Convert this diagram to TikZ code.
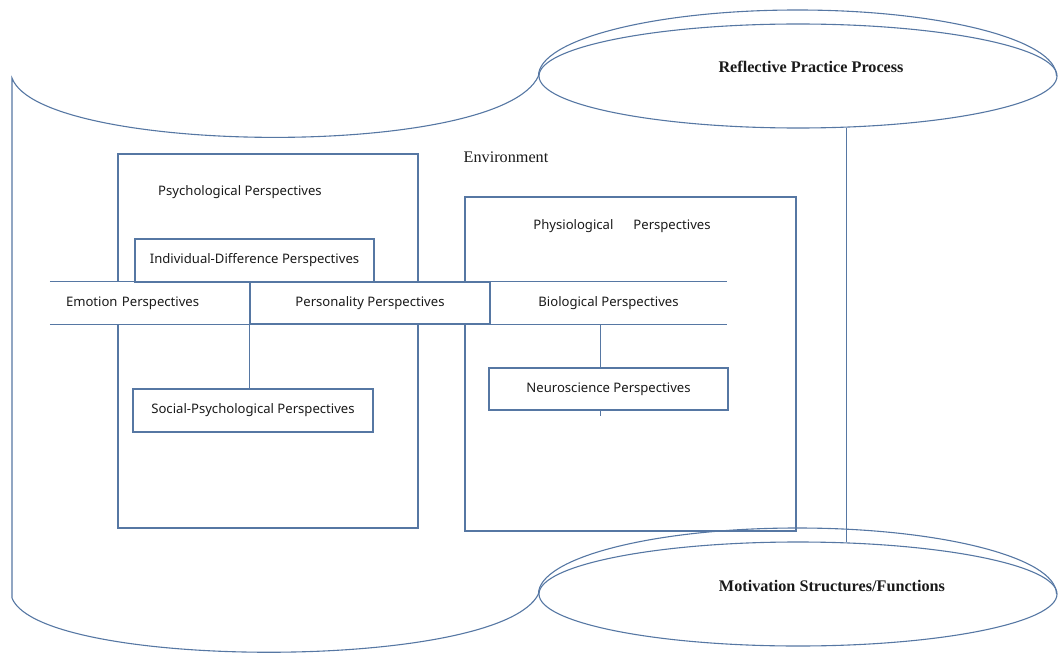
\documentclass[tikz,border=0pt]{standalone}
\usepackage{fontspec}
\setmainfont{Liberation Serif}
\newfontfamily\labelfont{Noto Sans}
\usetikzlibrary{shapes.geometric,positioning,calc}
\definecolor{edge}{HTML}{5677A3}
\definecolor{ink}{HTML}{1A1A1A}
\tikzset{
  frame/.style={draw=edge,line width=1.1pt},
  bigbox/.style={draw=edge,line width=1.1pt,inner sep=0pt},
  persbox/.style={draw=edge,line width=1.1pt,fill=white,inner sep=0pt,
                  minimum height=42pt,text=ink,
                  font=\labelfont\fontsize{13.1}{15}\selectfont},
  bandcell/.style={fill=white,inner sep=0pt,minimum height=42pt,text=ink,
                   font=\labelfont\fontsize{13.1}{15}\selectfont},
  boxtitle/.style={text=ink,font=\labelfont\fontsize{13.1}{15}\selectfont},
  ring/.style={ellipse,draw=edge,line width=1.1pt,inner sep=0pt,
               minimum width=518pt,minimum height=104pt},
  headline/.style={text=ink,font=\fontsize{16.2}{19}\selectfont\bfseries},
  envtext/.style={text=ink,font=\fontsize{16.2}{19}\selectfont}
}
\begin{document}
\begin{tikzpicture}[x=1pt,y=-1pt]
  \useasboundingbox (0,0) rectangle (1059,655);

  % process ellipses
  \node[ring,label={[headline,xshift=13pt,yshift=9pt]center:Reflective Practice Process}]
    (reflect) at (798,76) {};
  \node[ring,label={[headline,xshift=34pt,yshift=8pt]center:Motivation Structures/Functions}]
    (motive) at (798,594) {};
  \draw[frame] (reflect.west) arc[start angle=180,end angle=0,x radius=259pt,y radius=66pt];
  \draw[frame] (motive.west) arc[start angle=180,end angle=0,x radius=259pt,y radius=66pt];
  \draw[frame] (reflect.-47.3) -- (motive.47.3);

  % environment body
  \draw[frame] (reflect.west) .. controls (500,160) and (40,155) .. (12,78)
    -- (12,598) .. controls (40,670) and (500,672) .. (motive.west);
  \node[envtext] (env) at (506,157) {Environment};

  % perspective frames
  \node[bigbox,minimum width=300pt,minimum height=374pt] (psych) at (268,341) {};
  \node[boxtitle] (psychtitle) at (240,192) {Psychological Perspectives};
  \node[bigbox,minimum width=331pt,minimum height=334pt] (physio) at (630.5,364) {};
  \node[boxtitle] (physiotitle) at (622,226) {Physiological\hspace{20pt}Perspectives};

  % central band
  \node[bandcell,text width=168pt,align=left,inner xsep=16pt] (emotion) at (150,303)
    {Emotion Perspectives};
  \node[bandcell,minimum width=237pt] (biology) at (608.5,303) {Biological Perspectives};
  \draw[frame] (emotion.north west) -- (biology.north east);
  \draw[frame] (emotion.south west) -- (biology.south east);
  \node[persbox,minimum width=240pt] (personality) at (370,303) {Personality Perspectives};

  \node[persbox,minimum width=239pt,minimum height=43pt] (indiv) at (254.5,260.5)
    {Individual-Difference Perspectives};
  \node[persbox,minimum width=240pt,minimum height=43pt] (social) at (253,410.5)
    {Social-Psychological Perspectives};
  \node[persbox,minimum width=239pt] (neuro) at (608.5,389) {Neuroscience Perspectives};

  \draw[frame] (personality.south west) -- (personality.south west |- social.north);
  \draw[frame] ([xshift=-8pt]biology.south) -- ([xshift=-8pt]neuro.north);
  \draw[frame] ([xshift=-8pt]neuro.south) -- ++(0,5);
\end{tikzpicture}
\end{document}
